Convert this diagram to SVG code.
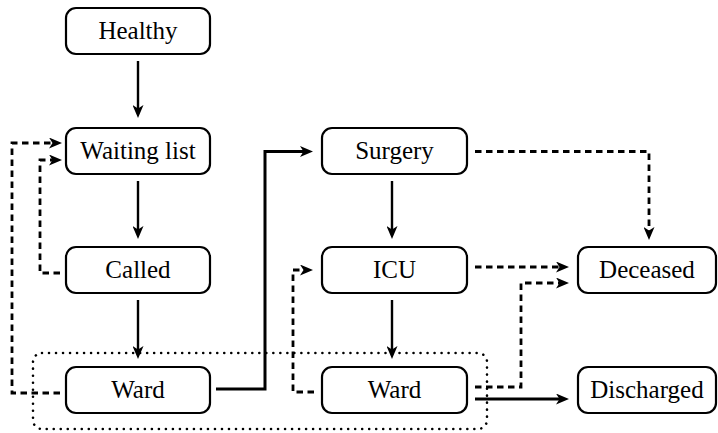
<svg xmlns="http://www.w3.org/2000/svg" width="718" height="433" viewBox="0 0 718 433">
<style>
.box{fill:#fff;stroke:#000;stroke-width:2.2}
.solid{fill:none;stroke:#000;stroke-width:2.4}
.thick{fill:none;stroke:#000;stroke-width:3}
.dash{fill:none;stroke:#000;stroke-width:2.8;stroke-dasharray:6.5,4.5}
.dot{fill:none;stroke:#000;stroke-width:2.6;stroke-linecap:round;stroke-dasharray:0.01,7}
</style>
<defs>
<marker id="ah" markerUnits="userSpaceOnUse" markerWidth="13" markerHeight="11" viewBox="0 0 13 11" refX="4" refY="5.5" orient="auto">
<path d="M0,0 L13,5.5 L0,11 L3.5,5.5 z" fill="#000"/>
</marker>
</defs>
<rect class="dot" x="33" y="353" width="454" height="76" rx="9"/>
<g id="connectors">
<path class="solid" d="M138,61 V109" marker-end="url(#ah)"/>
<path class="solid" d="M138,181 V230" marker-end="url(#ah)"/>
<path class="solid" d="M138,300 V350" marker-end="url(#ah)"/>
<path class="solid" d="M392,181 V230" marker-end="url(#ah)"/>
<path class="solid" d="M392,300 V350" marker-end="url(#ah)"/>
<path class="thick" d="M216,389 H265 V151.5 H304" marker-end="url(#ah)"/>
<path class="dash" d="M475,151.5 H649 V231" marker-end="url(#ah)"/>
<path class="dash" d="M475,267 H560" marker-end="url(#ah)"/>
<path class="dash" d="M475,387 H521 V283 H560" marker-end="url(#ah)"/>
<path class="thick" d="M475,399 H560" marker-end="url(#ah)"/>
<path class="dash" d="M314,392 H293 V270 H304" marker-end="url(#ah)"/>
<path class="dash" d="M60,273 H40 V160 H53" marker-end="url(#ah)"/>
<path class="dash" d="M60,393 H12 V143 H53" marker-end="url(#ah)"/>
</g>
<g id="healthy"><rect class="box" x="66" y="8" width="144" height="46" rx="10"/><text x="138" y="39" font-family="Liberation Serif" font-size="25" text-anchor="middle">Healthy</text></g>
<g id="waiting"><rect class="box" x="66" y="128" width="144" height="46" rx="10"/><text x="138" y="159" font-family="Liberation Serif" font-size="25" text-anchor="middle">Waiting list</text></g>
<g id="called"><rect class="box" x="66" y="247" width="144" height="46" rx="10"/><text x="138" y="278" font-family="Liberation Serif" font-size="25" text-anchor="middle">Called</text></g>
<g id="ward1"><rect class="box" x="66" y="367" width="144" height="46" rx="10"/><text x="138" y="398" font-family="Liberation Serif" font-size="25" text-anchor="middle">Ward</text></g>
<g id="surgery"><rect class="box" x="322" y="128" width="145" height="46" rx="10"/><text x="394.5" y="159" font-family="Liberation Serif" font-size="25" text-anchor="middle">Surgery</text></g>
<g id="icu"><rect class="box" x="322" y="247" width="145" height="46" rx="10"/><text x="394.5" y="278" font-family="Liberation Serif" font-size="25" text-anchor="middle">ICU</text></g>
<g id="ward2"><rect class="box" x="322" y="367" width="145" height="46" rx="10"/><text x="394.5" y="398" font-family="Liberation Serif" font-size="25" text-anchor="middle">Ward</text></g>
<g id="deceased"><rect class="box" x="578" y="247" width="138" height="46" rx="10"/><text x="647" y="278" font-family="Liberation Serif" font-size="25" text-anchor="middle">Deceased</text></g>
<g id="discharged"><rect class="box" x="578" y="367" width="138" height="46" rx="10"/><text x="647" y="398" font-family="Liberation Serif" font-size="25" text-anchor="middle">Discharged</text></g>
</svg>
